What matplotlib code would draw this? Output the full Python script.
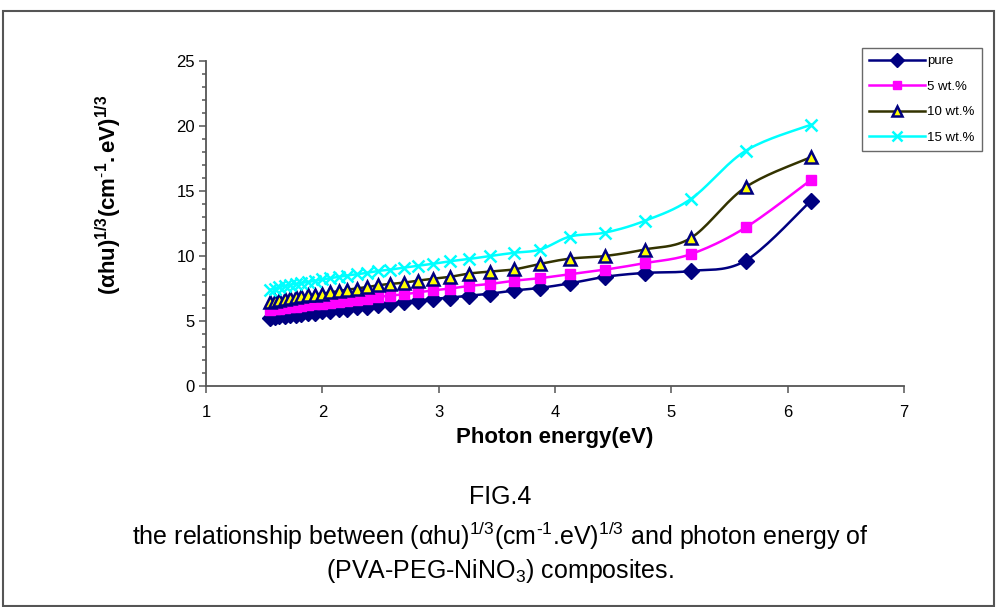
"""Recreation of FIG.4 - (ahu)^1/3 vs photon energy for PVA-PEG-NiNO3 composites."""
import matplotlib
matplotlib.use("Agg")
import matplotlib.pyplot as plt
import numpy as np
from matplotlib.patches import Rectangle

plt.rcParams["font.family"] = ["Liberation Sans", "DejaVu Sans"]
plt.rcParams["mathtext.fontset"] = "custom"
plt.rcParams["mathtext.rm"] = "Liberation Sans"
plt.rcParams["mathtext.bf"] = "Liberation Sans:bold"
plt.rcParams["mathtext.it"] = "Liberation Sans:italic"

# photon energy (eV), 800 nm -> 200 nm in 20 nm steps
energy = [1.55, 1.59, 1.63, 1.68, 1.72, 1.77, 1.82, 1.88, 1.94, 2.0,
          2.07, 2.14, 2.21, 2.3, 2.38, 2.48, 2.58, 2.7, 2.82, 2.95,
          3.1, 3.26, 3.44, 3.65, 3.875, 4.13, 4.43, 4.77, 5.17, 5.64, 6.2]

pure = [5.25, 5.3, 5.35, 5.4, 5.45, 5.5, 5.55, 5.6, 5.65, 5.75,
        5.8, 5.9, 5.95, 6.05, 6.1, 6.2, 6.3, 6.45, 6.55, 6.7,
        6.8, 6.95, 7.1, 7.35, 7.55, 7.9, 8.4, 8.7, 8.85, 9.65, 14.25]
wt5 = [5.85, 5.9, 5.95, 6.0, 6.05, 6.1, 6.15, 6.2, 6.27, 6.33,
       6.4, 6.48, 6.55, 6.65, 6.73, 6.85, 6.95, 7.05, 7.2, 7.35,
       7.5, 7.7, 7.85, 8.1, 8.3, 8.6, 8.95, 9.45, 10.15, 12.2, 15.85]
wt10 = [6.5, 6.57, 6.63, 6.7, 6.77, 6.83, 6.9, 6.97, 7.03, 7.1,
        7.2, 7.3, 7.4, 7.5, 7.6, 7.75, 7.85, 7.95, 8.1, 8.25,
        8.4, 8.65, 8.8, 8.97, 9.4, 9.8, 10.0, 10.5, 11.4, 15.3, 17.6]
wt15 = [7.4, 7.5, 7.6, 7.7, 7.78, 7.85, 7.93, 8.0, 8.1, 8.2,
        8.3, 8.4, 8.5, 8.6, 8.7, 8.85, 8.95, 9.1, 9.25, 9.4,
        9.6, 9.77, 10.0, 10.25, 10.5, 11.5, 11.8, 12.7, 14.4, 18.1, 20.1]

labels = ["pure", "5 wt.%", "10 wt.%", "15 wt.%"]


def smooth(x, y, n=20):
    """Excel-style smoothed line (uniform Catmull-Rom as cubic Bezier)."""
    p = np.column_stack([x, y]).astype(float)
    p = np.vstack([p[0], p, p[-1]])
    out = []
    t = np.linspace(0, 1, n)[:, None]
    for i in range(1, len(p) - 2):
        p0, p3 = p[i], p[i + 1]
        c1 = p0 + (p[i + 1] - p[i - 1]) / 6
        c2 = p3 - (p[i + 2] - p[i]) / 6
        seg = ((1 - t) ** 3) * p0 + 3 * ((1 - t) ** 2) * t * c1 + 3 * (1 - t) * t ** 2 * c2 + t ** 3 * p3
        out.append(seg)
    out = np.vstack(out)
    return out[:, 0], out[:, 1]


fig = plt.figure(figsize=(9.96, 6.07), dpi=100)
ax = fig.add_axes([206 / 996, 1 - 386 / 607, 698 / 996, 325 / 607])

styles = [
    dict(color="#000080", marker="D", ms=8.5, mfc="#000080", mec="#000080", mew=1),
    dict(color="#FF00FF", marker="s", ms=7.5, mfc="#FF00FF", mec="#FF00FF", mew=1),
    dict(color="#333300", marker="^", ms=9, mfc="#FFFF00", mec="#000080", mew=1.8),
    dict(color="#00FFFF", marker="x", ms=9, mfc="#00FFFF", mec="#00FFFF", mew=1.8),
]

for yv, lab, st in zip([pure, wt5, wt10, wt15], labels, styles):
    sx, sy = smooth(energy, yv)
    ax.plot(sx, sy, color=st["color"], lw=1.8, zorder=2)
    ax.plot(energy, yv, ls="none", marker=st["marker"], ms=st["ms"], mfc=st["mfc"],
            mec=st["mec"], mew=st["mew"], zorder=3)
    ax.plot([], [], color=st["color"], lw=1.8, marker=st["marker"], ms=st["ms"] * 0.85,
            mfc=st["mfc"], mec=st["mec"], mew=st["mew"], label=lab)

ax.set_xlim(1, 7)
ax.set_ylim(0, 25)
ax.set_xticks(range(1, 8))
ax.set_yticks(range(0, 26, 5))
ax.set_yticks(range(0, 26), minor=True)
for s in ("top", "right"):
    ax.spines[s].set_visible(False)
for s in ("left", "bottom"):
    ax.spines[s].set_color("#555555")
    ax.spines[s].set_linewidth(1.3)
ax.tick_params(axis="both", which="major", direction="out", length=5, width=1.1,
               color="#555555", labelsize=12, pad=3)
ax.tick_params(axis="x", which="major", pad=9)
ax.tick_params(axis="y", which="minor", direction="out", length=3, width=1.1, color="#555555")

ax.set_xlabel("Photon energy(eV)", fontsize=16, fontweight="bold", labelpad=5)
ax.set_ylabel(r"$\mathbf{(}$α$\mathbf{hu)^{1/3}(cm^{\text{-}1}.eV)^{1/3}}$",
              fontsize=16, fontweight="bold")
ax.yaxis.set_label_coords(-0.117, 0.588)

leg = ax.legend(loc="upper left", bbox_to_anchor=(862 / 996, 1 - 48 / 607),
                bbox_transform=fig.transFigure, fontsize=9.5, frameon=True, fancybox=False,
                borderpad=0.55, labelspacing=1.0, handlelength=4.2, handletextpad=0.2,
                borderaxespad=0)
leg.get_frame().set_edgecolor("#444444")
leg.get_frame().set_linewidth(1.0)

cap = dict(ha="center", va="center", family=["Liberation Sans", "DejaVu Sans"])
fig.text(0.502, 1 - 497 / 607, "FIG.4", fontsize=18, **cap)
fig.text(0.502, 1 - 536 / 607,
         r"the relationship between (αhu)$^{1/3}$(cm$^{\text{-}1}$.eV)$^{1/3}$ and photon energy of",
         fontsize=18, **cap)
fig.text(0.502, 1 - 571 / 607, r"(PVA-PEG-NiNO$_3$) composites.", fontsize=18, **cap)

fig.patches.append(Rectangle((3 / 996, 1 / 607), 991 / 996, 595 / 607, transform=fig.transFigure,
                             fill=False, edgecolor="#555555", linewidth=1.5))

fig.savefig("out.png", dpi=100)
